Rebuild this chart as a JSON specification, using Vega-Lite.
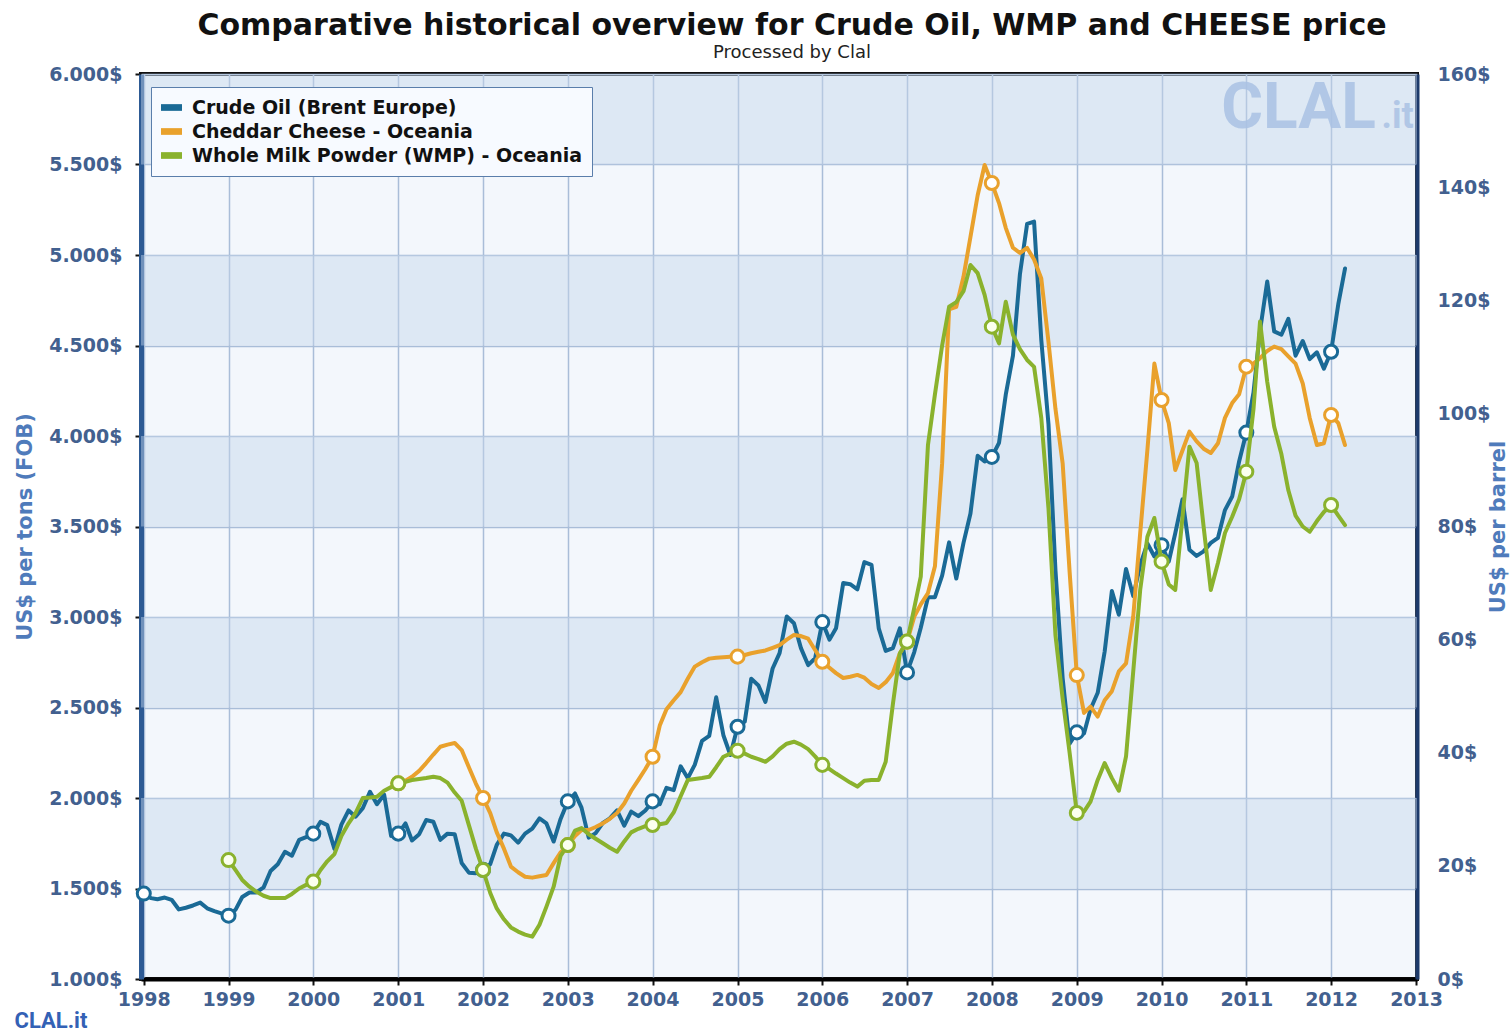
{
"$schema": "https://vega.github.io/schema/vega-lite/v6.json",
"width": 1276,
"height": 905,
"autosize": {"type": "none"},
"padding": {"left": 141, "top": 74, "right": 95, "bottom": 53},
"background": "#ffffff",
"title": {"text": "Comparative historical overview for Crude Oil, WMP and CHEESE price", "subtitle": "Processed by Clal", "anchor": "middle", "frame": "group", "dx": 13, "offset": 3, "font": "DejaVu Sans", "fontSize": 30, "fontWeight": "bold", "color": "#111111", "subtitleFont": "DejaVu Sans", "subtitleFontSize": 18, "subtitleColor": "#222222", "subtitlePadding": 3},
"config": {
  "font": "DejaVu Sans",
  "view": {"fill": "#f3f7fc", "stroke": "#111111", "strokeWidth": 4},
  "axis": {"labelFont": "DejaVu Sans", "labelFontWeight": "bold", "labelFontSize": 19, "labelColor": "#42608f", "titleFont": "DejaVu Sans"}
},
"datasets": {
  "bands": [{"lo": 1500, "hi": 2000}, {"lo": 2500, "hi": 3000}, {"lo": 3500, "hi": 4000}, {"lo": 4500, "hi": 5000}, {"lo": 5500, "hi": 6000}],
  "oil": [
    {"d":"1998-01","v":15.1},{"d":"1998-02","v":14.3},{"d":"1998-03","v":14.1},{"d":"1998-04","v":14.4},{"d":"1998-05","v":14.0},{"d":"1998-06","v":12.3},{"d":"1998-07","v":12.6},{"d":"1998-08","v":13.0},{"d":"1998-09","v":13.5},{"d":"1998-10","v":12.5},{"d":"1998-11","v":12.0},{"d":"1998-12","v":11.6},
    {"d":"1999-01","v":11.2},{"d":"1999-02","v":12.3},{"d":"1999-03","v":14.5},{"d":"1999-04","v":15.3},{"d":"1999-05","v":15.3},{"d":"1999-06","v":16.2},{"d":"1999-07","v":19.1},{"d":"1999-08","v":20.3},{"d":"1999-09","v":22.5},{"d":"1999-10","v":21.8},{"d":"1999-11","v":24.6},{"d":"1999-12","v":25.1},
    {"d":"2000-01","v":25.7},{"d":"2000-02","v":27.8},{"d":"2000-03","v":27.2},{"d":"2000-04","v":23.0},{"d":"2000-05","v":27.3},{"d":"2000-06","v":29.8},{"d":"2000-07","v":28.7},{"d":"2000-08","v":30.2},{"d":"2000-09","v":33.1},{"d":"2000-10","v":30.9},{"d":"2000-11","v":32.6},{"d":"2000-12","v":25.3},
    {"d":"2001-01","v":25.7},{"d":"2001-02","v":27.5},{"d":"2001-03","v":24.5},{"d":"2001-04","v":25.6},{"d":"2001-05","v":28.1},{"d":"2001-06","v":27.8},{"d":"2001-07","v":24.6},{"d":"2001-08","v":25.7},{"d":"2001-09","v":25.6},{"d":"2001-10","v":20.5},{"d":"2001-11","v":18.8},{"d":"2001-12","v":18.7},
    {"d":"2002-01","v":19.3},{"d":"2002-02","v":20.3},{"d":"2002-03","v":23.7},{"d":"2002-04","v":25.7},{"d":"2002-05","v":25.4},{"d":"2002-06","v":24.1},{"d":"2002-07","v":25.7},{"d":"2002-08","v":26.6},{"d":"2002-09","v":28.4},{"d":"2002-10","v":27.5},{"d":"2002-11","v":24.3},{"d":"2002-12","v":28.3},
    {"d":"2003-01","v":31.4},{"d":"2003-02","v":32.8},{"d":"2003-03","v":30.3},{"d":"2003-04","v":25.0},{"d":"2003-05","v":25.8},{"d":"2003-06","v":27.6},{"d":"2003-07","v":28.4},{"d":"2003-08","v":29.8},{"d":"2003-09","v":27.1},{"d":"2003-10","v":29.6},{"d":"2003-11","v":28.8},{"d":"2003-12","v":29.8},
    {"d":"2004-01","v":31.4},{"d":"2004-02","v":30.9},{"d":"2004-03","v":33.8},{"d":"2004-04","v":33.4},{"d":"2004-05","v":37.6},{"d":"2004-06","v":35.5},{"d":"2004-07","v":37.9},{"d":"2004-08","v":42.1},{"d":"2004-09","v":43.0},{"d":"2004-10","v":49.8},{"d":"2004-11","v":43.1},{"d":"2004-12","v":39.6},
    {"d":"2005-01","v":44.6},{"d":"2005-02","v":45.5},{"d":"2005-03","v":53.1},{"d":"2005-04","v":51.9},{"d":"2005-05","v":49.0},{"d":"2005-06","v":54.9},{"d":"2005-07","v":57.6},{"d":"2005-08","v":64.1},{"d":"2005-09","v":62.9},{"d":"2005-10","v":58.5},{"d":"2005-11","v":55.5},{"d":"2005-12","v":56.7},
    {"d":"2006-01","v":63.1},{"d":"2006-02","v":60.0},{"d":"2006-03","v":62.0},{"d":"2006-04","v":70.0},{"d":"2006-05","v":69.8},{"d":"2006-06","v":68.9},{"d":"2006-07","v":73.7},{"d":"2006-08","v":73.2},{"d":"2006-09","v":62.0},{"d":"2006-10","v":58.0},{"d":"2006-11","v":58.5},{"d":"2006-12","v":62.0},
    {"d":"2007-01","v":54.2},{"d":"2007-02","v":57.8},{"d":"2007-03","v":62.1},{"d":"2007-04","v":67.5},{"d":"2007-05","v":67.5},{"d":"2007-06","v":71.3},{"d":"2007-07","v":77.2},{"d":"2007-08","v":70.8},{"d":"2007-09","v":77.1},{"d":"2007-10","v":82.3},{"d":"2007-11","v":92.5},{"d":"2007-12","v":91.5},
    {"d":"2008-01","v":92.3},{"d":"2008-02","v":94.8},{"d":"2008-03","v":103.3},{"d":"2008-04","v":110.2},{"d":"2008-05","v":124.6},{"d":"2008-06","v":133.5},{"d":"2008-07","v":133.9},{"d":"2008-08","v":113.0},{"d":"2008-09","v":98.1},{"d":"2008-10","v":72.3},{"d":"2008-11","v":53.2},{"d":"2008-12","v":41.6},
    {"d":"2009-01","v":43.6},{"d":"2009-02","v":43.4},{"d":"2009-03","v":47.7},{"d":"2009-04","v":50.6},{"d":"2009-05","v":57.9},{"d":"2009-06","v":68.6},{"d":"2009-07","v":64.4},{"d":"2009-08","v":72.5},{"d":"2009-09","v":67.7},{"d":"2009-10","v":73.2},{"d":"2009-11","v":77.0},{"d":"2009-12","v":74.7},
    {"d":"2010-01","v":76.7},{"d":"2010-02","v":73.8},{"d":"2010-03","v":78.8},{"d":"2010-04","v":84.8},{"d":"2010-05","v":75.9},{"d":"2010-06","v":74.8},{"d":"2010-07","v":75.6},{"d":"2010-08","v":77.1},{"d":"2010-09","v":78.0},{"d":"2010-10","v":82.9},{"d":"2010-11","v":85.3},{"d":"2010-12","v":91.5},
    {"d":"2011-01","v":96.6},{"d":"2011-02","v":103.7},{"d":"2011-03","v":114.6},{"d":"2011-04","v":123.3},{"d":"2011-05","v":114.5},{"d":"2011-06","v":113.9},{"d":"2011-07","v":116.7},{"d":"2011-08","v":110.2},{"d":"2011-09","v":112.8},{"d":"2011-10","v":109.6},{"d":"2011-11","v":110.8},{"d":"2011-12","v":107.9},
    {"d":"2012-01","v":110.9},{"d":"2012-02","v":119.3},{"d":"2012-03","v":125.6}
  ],
  "chd": [
    {"d":"2001-01","v":2081},{"d":"2001-02","v":2095},{"d":"2001-03","v":2117},{"d":"2001-04","v":2150},{"d":"2001-05","v":2193},{"d":"2001-06","v":2240},{"d":"2001-07","v":2283},{"d":"2001-08","v":2295},{"d":"2001-09","v":2304},{"d":"2001-10","v":2265},{"d":"2001-11","v":2170},{"d":"2001-12","v":2080},
    {"d":"2002-01","v":2000},{"d":"2002-02","v":1917},{"d":"2002-03","v":1810},{"d":"2002-04","v":1720},{"d":"2002-05","v":1621},{"d":"2002-06","v":1590},{"d":"2002-07","v":1565},{"d":"2002-08","v":1560},{"d":"2002-09","v":1568},{"d":"2002-10","v":1575},{"d":"2002-11","v":1640},{"d":"2002-12","v":1700},
    {"d":"2003-01","v":1740},{"d":"2003-02","v":1790},{"d":"2003-03","v":1823},{"d":"2003-04","v":1823},{"d":"2003-05","v":1840},{"d":"2003-06","v":1860},{"d":"2003-07","v":1885},{"d":"2003-08","v":1917},{"d":"2003-09","v":1970},{"d":"2003-10","v":2040},{"d":"2003-11","v":2100},{"d":"2003-12","v":2160},
    {"d":"2004-01","v":2228},{"d":"2004-02","v":2400},{"d":"2004-03","v":2490},{"d":"2004-04","v":2540},{"d":"2004-05","v":2585},{"d":"2004-06","v":2660},{"d":"2004-07","v":2726},{"d":"2004-08","v":2750},{"d":"2004-09","v":2770},{"d":"2004-10","v":2775},{"d":"2004-11","v":2778},{"d":"2004-12","v":2780},
    {"d":"2005-01","v":2781},{"d":"2005-02","v":2790},{"d":"2005-03","v":2800},{"d":"2005-04","v":2808},{"d":"2005-05","v":2815},{"d":"2005-06","v":2830},{"d":"2005-07","v":2845},{"d":"2005-08","v":2875},{"d":"2005-09","v":2901},{"d":"2005-10","v":2895},{"d":"2005-11","v":2880},{"d":"2005-12","v":2818},
    {"d":"2006-01","v":2753},{"d":"2006-02","v":2720},{"d":"2006-03","v":2690},{"d":"2006-04","v":2663},{"d":"2006-05","v":2670},{"d":"2006-06","v":2680},{"d":"2006-07","v":2665},{"d":"2006-08","v":2630},{"d":"2006-09","v":2608},{"d":"2006-10","v":2640},{"d":"2006-11","v":2691},{"d":"2006-12","v":2800},
    {"d":"2007-01","v":2864},{"d":"2007-02","v":3002},{"d":"2007-03","v":3070},{"d":"2007-04","v":3132},{"d":"2007-05","v":3280},{"d":"2007-06","v":3850},{"d":"2007-07","v":4700},{"d":"2007-08","v":4714},{"d":"2007-09","v":4880},{"d":"2007-10","v":5100},{"d":"2007-11","v":5330},{"d":"2007-12","v":5497},
    {"d":"2008-01","v":5398},{"d":"2008-02","v":5287},{"d":"2008-03","v":5150},{"d":"2008-04","v":5040},{"d":"2008-05","v":5011},{"d":"2008-06","v":5039},{"d":"2008-07","v":4975},{"d":"2008-08","v":4870},{"d":"2008-09","v":4520},{"d":"2008-10","v":4150},{"d":"2008-11","v":3850},{"d":"2008-12","v":3250},
    {"d":"2009-01","v":2679},{"d":"2009-02","v":2470},{"d":"2009-03","v":2505},{"d":"2009-04","v":2450},{"d":"2009-05","v":2540},{"d":"2009-06","v":2590},{"d":"2009-07","v":2700},{"d":"2009-08","v":2744},{"d":"2009-09","v":3002},{"d":"2009-10","v":3464},{"d":"2009-11","v":3923},{"d":"2009-12","v":4400},
    {"d":"2010-01","v":4199},{"d":"2010-02","v":4071},{"d":"2010-03","v":3812},{"d":"2010-04","v":3920},{"d":"2010-05","v":4024},{"d":"2010-06","v":3970},{"d":"2010-07","v":3930},{"d":"2010-08","v":3906},{"d":"2010-09","v":3960},{"d":"2010-10","v":4100},{"d":"2010-11","v":4182},{"d":"2010-12","v":4230},
    {"d":"2011-01","v":4383},{"d":"2011-02","v":4400},{"d":"2011-03","v":4430},{"d":"2011-04","v":4470},{"d":"2011-05","v":4494},{"d":"2011-06","v":4480},{"d":"2011-07","v":4440},{"d":"2011-08","v":4400},{"d":"2011-09","v":4290},{"d":"2011-10","v":4100},{"d":"2011-11","v":3950},{"d":"2011-12","v":3960},
    {"d":"2012-01","v":4116},{"d":"2012-02","v":4071},{"d":"2012-03","v":3950}
  ],
  "wmp": [
    {"d":"1999-01","v":1657},{"d":"1999-02","v":1600},{"d":"1999-03","v":1547},{"d":"1999-04","v":1510},{"d":"1999-05","v":1482},{"d":"1999-06","v":1460},{"d":"1999-07","v":1447},{"d":"1999-08","v":1447},{"d":"1999-09","v":1447},{"d":"1999-10","v":1470},{"d":"1999-11","v":1500},{"d":"1999-12","v":1520},
    {"d":"2000-01","v":1538},{"d":"2000-02","v":1602},{"d":"2000-03","v":1650},{"d":"2000-04","v":1690},{"d":"2000-05","v":1790},{"d":"2000-06","v":1860},{"d":"2000-07","v":1917},{"d":"2000-08","v":2000},{"d":"2000-09","v":2003},{"d":"2000-10","v":2007},{"d":"2000-11","v":2040},{"d":"2000-12","v":2060},
    {"d":"2001-01","v":2081},{"d":"2001-02","v":2090},{"d":"2001-03","v":2099},{"d":"2001-04","v":2105},{"d":"2001-05","v":2110},{"d":"2001-06","v":2117},{"d":"2001-07","v":2110},{"d":"2001-08","v":2085},{"d":"2001-09","v":2030},{"d":"2001-10","v":1985},{"d":"2001-11","v":1850},{"d":"2001-12","v":1720},
    {"d":"2002-01","v":1602},{"d":"2002-02","v":1475},{"d":"2002-03","v":1390},{"d":"2002-04","v":1330},{"d":"2002-05","v":1285},{"d":"2002-06","v":1262},{"d":"2002-07","v":1245},{"d":"2002-08","v":1234},{"d":"2002-09","v":1300},{"d":"2002-10","v":1400},{"d":"2002-11","v":1510},{"d":"2002-12","v":1680},
    {"d":"2003-01","v":1740},{"d":"2003-02","v":1820},{"d":"2003-03","v":1834},{"d":"2003-04","v":1800},{"d":"2003-05","v":1775},{"d":"2003-06","v":1750},{"d":"2003-07","v":1725},{"d":"2003-08","v":1703},{"d":"2003-09","v":1760},{"d":"2003-10","v":1810},{"d":"2003-11","v":1830},{"d":"2003-12","v":1845},
    {"d":"2004-01","v":1851},{"d":"2004-02","v":1855},{"d":"2004-03","v":1862},{"d":"2004-04","v":1920},{"d":"2004-05","v":2010},{"d":"2004-06","v":2100},{"d":"2004-07","v":2105},{"d":"2004-08","v":2110},{"d":"2004-09","v":2117},{"d":"2004-10","v":2170},{"d":"2004-11","v":2228},{"d":"2004-12","v":2245},
    {"d":"2005-01","v":2261},{"d":"2005-02","v":2245},{"d":"2005-03","v":2228},{"d":"2005-04","v":2215},{"d":"2005-05","v":2200},{"d":"2005-06","v":2230},{"d":"2005-07","v":2270},{"d":"2005-08","v":2300},{"d":"2005-09","v":2311},{"d":"2005-10","v":2295},{"d":"2005-11","v":2270},{"d":"2005-12","v":2230},
    {"d":"2006-01","v":2183},{"d":"2006-02","v":2160},{"d":"2006-03","v":2135},{"d":"2006-04","v":2110},{"d":"2006-05","v":2085},{"d":"2006-06","v":2063},{"d":"2006-07","v":2095},{"d":"2006-08","v":2100},{"d":"2006-09","v":2100},{"d":"2006-10","v":2200},{"d":"2006-11","v":2520},{"d":"2006-12","v":2800},
    {"d":"2007-01","v":2864},{"d":"2007-02","v":3050},{"d":"2007-03","v":3223},{"d":"2007-04","v":3950},{"d":"2007-05","v":4230},{"d":"2007-06","v":4500},{"d":"2007-07","v":4714},{"d":"2007-08","v":4740},{"d":"2007-09","v":4800},{"d":"2007-10","v":4945},{"d":"2007-11","v":4900},{"d":"2007-12","v":4780},
    {"d":"2008-01","v":4604},{"d":"2008-02","v":4512},{"d":"2008-03","v":4742},{"d":"2008-04","v":4560},{"d":"2008-05","v":4480},{"d":"2008-06","v":4420},{"d":"2008-07","v":4382},{"d":"2008-08","v":4100},{"d":"2008-09","v":3600},{"d":"2008-10","v":2900},{"d":"2008-11","v":2550},{"d":"2008-12","v":2250},
    {"d":"2009-01","v":1917},{"d":"2009-02","v":1925},{"d":"2009-03","v":1980},{"d":"2009-04","v":2100},{"d":"2009-05","v":2193},{"d":"2009-06","v":2110},{"d":"2009-07","v":2040},{"d":"2009-08","v":2230},{"d":"2009-09","v":2700},{"d":"2009-10","v":3150},{"d":"2009-11","v":3443},{"d":"2009-12","v":3547},
    {"d":"2010-01","v":3306},{"d":"2010-02","v":3180},{"d":"2010-03","v":3150},{"d":"2010-04","v":3550},{"d":"2010-05","v":3941},{"d":"2010-06","v":3851},{"d":"2010-07","v":3500},{"d":"2010-08","v":3149},{"d":"2010-09","v":3300},{"d":"2010-10","v":3464},{"d":"2010-11","v":3554},{"d":"2010-12","v":3650},
    {"d":"2011-01","v":3803},{"d":"2011-02","v":4150},{"d":"2011-03","v":4632},{"d":"2011-04","v":4300},{"d":"2011-05","v":4051},{"d":"2011-06","v":3900},{"d":"2011-07","v":3700},{"d":"2011-08","v":3560},{"d":"2011-09","v":3500},{"d":"2011-10","v":3471},{"d":"2011-11","v":3530},{"d":"2011-12","v":3580},
    {"d":"2012-01","v":3619},{"d":"2012-02","v":3560},{"d":"2012-03","v":3508}
  ]
},
"layer": [
  {
    "layer": [
      {
        "data": {"name": "bands"},
        "mark": {"type": "rect", "fill": "#c4d4ea", "opacity": 0.45},
        "encoding": {
          "y": {"field": "lo", "type": "quantitative", "scale": {"domain": [1000, 6000], "nice": false, "zero": false}, "axis": null},
          "y2": {"field": "hi"}
        }
      },
      {
        "data": {"values": [{"t": "CLAL"}]},
        "mark": {"type": "text", "align": "left", "baseline": "alphabetic", "font": "Roboto", "fontWeight": "bold", "fontSize": 64, "fill": "#aac2e4", "opacity": 0.85},
        "encoding": {
          "text": {"field": "t"},
          "x": {"datum": {"year": 2010, "month": 9, "date": 15, "utc": true}, "type": "temporal", "title": "CLAL.it"},
          "y": {"datum": 5702, "type": "quantitative"}
        }
      },
      {
        "data": {"values": [{"t": ".it"}]},
        "mark": {"type": "text", "align": "left", "baseline": "alphabetic", "font": "Roboto", "fontWeight": "bold", "fontSize": 36, "fill": "#aac2e4", "opacity": 0.85},
        "encoding": {
          "text": {"field": "t"},
          "x": {"datum": {"year": 2012, "month": 8, "date": 5, "utc": true}, "type": "temporal", "title": "CLAL.it"},
          "y": {"datum": 5702, "type": "quantitative"}
        }
      }
    ]
  },
  {
    "layer": [
      {
        "data": {"name": "oil"},
        "mark": {"type": "line", "strokeWidth": 4, "strokeJoin": "round", "strokeCap": "round"},
        "encoding": {
          "x": {"field": "d", "type": "temporal", "title": "CLAL.it",
                "scale": {"type": "utc", "domain": [{"year": 1997, "month": 12, "date": 20, "utc": true}, {"year": 2013, "month": 1, "date": 5, "utc": true}]},
                "axis": {"format": "%Y", "formatType": "utc", "tickCount": {"interval": "year", "step": 1}, "labelOverlap": false, "labelFlush": false, "grid": true, "gridColor": "#a9bdd8", "gridWidth": 1.5, "domainColor": "#000000", "domainWidth": 4, "tickColor": "#111111", "tickSize": 6, "tickWidth": 2, "labelPadding": 5, "titleAnchor": "start", "titleAlign": "left", "titleBaseline": "alphabetic", "titleX": -127, "titleY": 48, "titleFont": "Roboto", "titleFontSize": 22, "titleFontWeight": "bold", "titleColor": "#3361b5"}},
          "y": {"field": "v", "type": "quantitative", "title": "US$ per barrel",
                "scale": {"domain": [0, 160], "nice": false, "zero": false},
                "axis": {"orient": "right", "values": [0, 20, 40, 60, 80, 100, 120, 140, 160], "labelExpr": "datum.value + '$'", "grid": false, "domainColor": "#1d3a6b", "domainWidth": 4, "ticks": false, "labelPadding": 20, "titleColor": "#4f7bbb", "titleFontSize": 21, "titleFontWeight": "bold", "titleAngle": 270, "titlePadding": 19}},
          "color": {"datum": "Crude Oil (Brent Europe)", "type": "nominal",
                    "scale": {"domain": ["Crude Oil (Brent Europe)", "Cheddar Cheese - Oceania", "Whole Milk Powder (WMP) - Oceania"], "range": ["#1a6a96", "#e9a12c", "#8ab22d"]},
                    "legend": {"title": null, "orient": "none", "legendX": 10, "legendY": 13, "direction": "vertical", "fillColor": "#f7faff", "strokeColor": "#5a7eab", "padding": 10, "labelFont": "DejaVu Sans", "labelFontSize": 19, "labelFontWeight": "bold", "labelColor": "#111111", "labelLimit": 0, "symbolType": "M-1,-0.32H1V0.32H-1Z", "symbolSize": 440, "symbolStrokeWidth": 0, "rowPadding": 3, "labelOffset": 10,
                               "encode": {"symbols": {"update": {"fill": {"scale": "color", "field": "value"}, "stroke": {"value": "transparent"}, "strokeWidth": {"value": 0}, "opacity": {"value": 1}}}}}}
        }
      },
      {
        "data": {"name": "oil"},
        "transform": [{"filter": "utcmonth(toDate(datum.d)) === 0"}],
        "mark": {"type": "point", "shape": "circle", "filled": true, "fill": "#ffffff", "stroke": "#1a6a96", "strokeWidth": 3, "size": 170, "opacity": 1},
        "encoding": {
          "x": {"field": "d", "type": "temporal", "title": "CLAL.it"},
          "y": {"field": "v", "type": "quantitative", "title": "US$ per barrel"}
        }
      }
    ]
  },
  {
    "layer": [
      {
        "data": {"name": "chd"},
        "mark": {"type": "line", "strokeWidth": 4, "strokeJoin": "round", "strokeCap": "round"},
        "encoding": {
          "x": {"field": "d", "type": "temporal", "title": "CLAL.it"},
          "y": {"field": "v", "type": "quantitative", "title": "US$ per tons (FOB)",
                "scale": {"domain": [1000, 6000], "nice": false, "zero": false},
                "axis": {"orient": "left", "values": [1000, 1500, 2000, 2500, 3000, 3500, 4000, 4500, 5000, 5500, 6000], "labelExpr": "replace(format(datum.value, ',.0f'), ',', '.') + '$'", "grid": true, "gridColor": "#a9bdd8", "gridWidth": 1.5, "domainColor": "#2d5a94", "domainWidth": 5, "tickColor": "#111111", "tickSize": 6, "tickWidth": 2, "labelPadding": 13, "titleColor": "#4f7bbb", "titleFontSize": 21, "titleFontWeight": "bold", "titlePadding": 13}},
          "color": {"datum": "Cheddar Cheese - Oceania", "type": "nominal"}
        }
      },
      {
        "data": {"name": "wmp"},
        "mark": {"type": "line", "strokeWidth": 4, "strokeJoin": "round", "strokeCap": "round"},
        "encoding": {
          "x": {"field": "d", "type": "temporal", "title": "CLAL.it"},
          "y": {"field": "v", "type": "quantitative", "title": "US$ per tons (FOB)"},
          "color": {"datum": "Whole Milk Powder (WMP) - Oceania", "type": "nominal"}
        }
      },
      {
        "data": {"name": "chd"},
        "transform": [{"filter": "utcmonth(toDate(datum.d)) === 0"}],
        "mark": {"type": "point", "shape": "circle", "filled": true, "fill": "#ffffff", "stroke": "#e9a12c", "strokeWidth": 3, "size": 170, "opacity": 1},
        "encoding": {
          "x": {"field": "d", "type": "temporal", "title": "CLAL.it"},
          "y": {"field": "v", "type": "quantitative", "title": "US$ per tons (FOB)"}
        }
      },
      {
        "data": {"name": "wmp"},
        "transform": [{"filter": "utcmonth(toDate(datum.d)) === 0"}],
        "mark": {"type": "point", "shape": "circle", "filled": true, "fill": "#fbffef", "stroke": "#8ab22d", "strokeWidth": 3, "size": 170, "opacity": 1},
        "encoding": {
          "x": {"field": "d", "type": "temporal", "title": "CLAL.it"},
          "y": {"field": "v", "type": "quantitative", "title": "US$ per tons (FOB)"}
        }
      }
    ]
  }
],
"resolve": {"scale": {"y": "independent"}}
}
